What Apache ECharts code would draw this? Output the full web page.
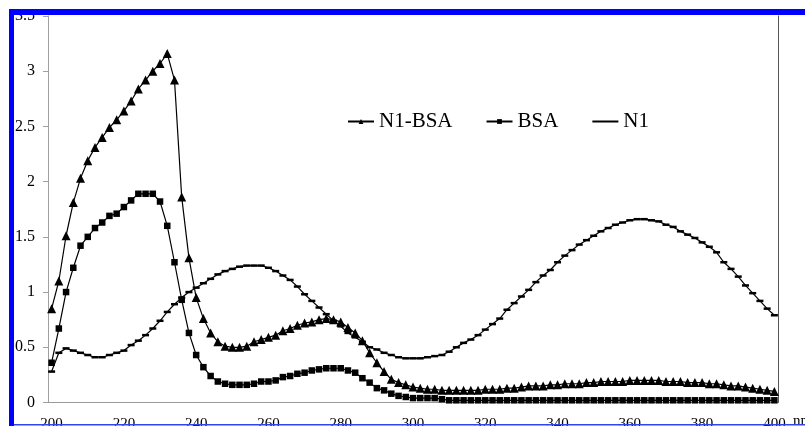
<!DOCTYPE html>
<html>
<head>
<meta charset="utf-8">
<script src="https://cdn.jsdelivr.net/npm/echarts@6/dist/echarts.min.js"></script>
<style>
html,body{margin:0;padding:0;background:#fff;}
#c{width:805px;height:426px;}
</style>
</head>
<body>
<div id="c"></div>
<script>
// wavelength categories 200..400 nm, step 2
var categories = [];
for (var w = 200; w <= 400; w += 2) categories.push(String(w));

var yTicks = [0, 0.5, 1, 1.5, 2, 2.5, 3, 3.5];

var n1bsa = [
  0.85, 1.10, 1.51, 1.81, 2.03, 2.19, 2.31, 2.40, 2.49, 2.56,
  2.64, 2.73, 2.84, 2.92, 3.00, 3.07, 3.16, 2.92, 1.86, 1.31,
  0.95, 0.76, 0.63, 0.55, 0.51, 0.50, 0.50, 0.51, 0.55, 0.57,
  0.59, 0.61, 0.65, 0.67, 0.70, 0.72, 0.73, 0.75, 0.76, 0.75,
  0.73, 0.68, 0.63, 0.56, 0.45, 0.36, 0.28, 0.21, 0.18, 0.16,
  0.14, 0.13, 0.12, 0.12, 0.11, 0.11, 0.11, 0.11, 0.11, 0.11,
  0.12, 0.12, 0.12, 0.13, 0.13, 0.14, 0.15, 0.15, 0.15, 0.16,
  0.16, 0.17, 0.17, 0.17, 0.18, 0.18, 0.19, 0.19, 0.19, 0.19,
  0.20, 0.20, 0.20, 0.20, 0.20, 0.19, 0.19, 0.19, 0.18, 0.18,
  0.18, 0.17, 0.17, 0.16, 0.15, 0.15, 0.14, 0.13, 0.12, 0.11,
  0.10
];

var bsa = [
  0.36, 0.67, 1.00, 1.22, 1.42, 1.50, 1.58, 1.63, 1.69, 1.71,
  1.77, 1.83, 1.89, 1.89, 1.89, 1.82, 1.60, 1.27, 0.93, 0.63,
  0.43, 0.32, 0.24, 0.19, 0.17, 0.16, 0.16, 0.16, 0.17, 0.19,
  0.19, 0.20, 0.23, 0.24, 0.26, 0.27, 0.29, 0.30, 0.31, 0.31,
  0.31, 0.29, 0.27, 0.22, 0.18, 0.13, 0.11, 0.08, 0.06, 0.05,
  0.04, 0.04, 0.04, 0.04, 0.03, 0.02, 0.02, 0.02, 0.02, 0.02,
  0.02, 0.02, 0.02, 0.02, 0.02, 0.02, 0.02, 0.02, 0.02, 0.02,
  0.02, 0.02, 0.02, 0.02, 0.02, 0.02, 0.02, 0.02, 0.02, 0.02,
  0.02, 0.02, 0.02, 0.02, 0.02, 0.02, 0.02, 0.02, 0.02, 0.02,
  0.02, 0.02, 0.02, 0.02, 0.02, 0.02, 0.02, 0.02, 0.02, 0.02,
  0.02
];

var n1 = [
  0.28, 0.45, 0.49, 0.47, 0.45, 0.43, 0.41, 0.41, 0.43, 0.45,
  0.47, 0.52, 0.56, 0.61, 0.67, 0.74, 0.82, 0.89, 0.95, 1.00,
  1.04, 1.08, 1.12, 1.16, 1.19, 1.21, 1.23, 1.24, 1.24, 1.24,
  1.22, 1.19, 1.15, 1.11, 1.05, 0.98, 0.92, 0.86, 0.80, 0.74,
  0.69, 0.63, 0.59, 0.55, 0.50, 0.48, 0.45, 0.43, 0.41, 0.40,
  0.40, 0.40, 0.41, 0.42, 0.43, 0.46, 0.50, 0.54, 0.57, 0.61,
  0.66, 0.71, 0.76, 0.84, 0.90, 0.96, 1.02, 1.09, 1.15, 1.20,
  1.27, 1.33, 1.38, 1.43, 1.47, 1.51, 1.55, 1.58, 1.61, 1.63,
  1.65, 1.66, 1.66, 1.65, 1.64, 1.61, 1.59, 1.55, 1.52, 1.49,
  1.45, 1.41, 1.36, 1.27, 1.21, 1.14, 1.06, 0.99, 0.92, 0.85,
  0.79
];

var chart = echarts.init(document.getElementById('c'), null, {renderer: 'canvas'});

var lineStyle = {color: '#000', width: 1.2};
var option = {
  animation: false,
  backgroundColor: '#fff',
  grid: {left: 48, right: 27, top: 16, bottom: 23.5, containLabel: false, outerBoundsMode: 'none'},
  legend: {
    left: 347, top: 111, padding: 0,
    itemWidth: 26, itemHeight: 6, itemGap: 33,
    textStyle: {fontFamily: 'Liberation Serif', fontSize: 21, color: '#000'},
    data: ['N1-BSA', 'BSA', {name: 'N1', itemStyle: {opacity: 0}}]
  },
  xAxis: [{
    type: 'category',
    data: categories,
    boundaryGap: true,
    axisLine: {show: false},
    axisTick: {show: false},
    splitLine: {show: false},
    axisLabel: {interval: 9, margin: 14, fontFamily: 'Liberation Serif', fontSize: 15, color: '#000'}
  }, {
    type: 'category',
    data: categories,
    position: 'top',
    boundaryGap: true,
    axisLine: {show: true, lineStyle: {color: '#9a9a9a', width: 1}},
    axisTick: {show: false},
    axisLabel: {show: false},
    splitLine: {show: false}
  }],
  yAxis: [{
    type: 'value',
    min: 0, max: 3.5, interval: 0.5,
    axisLine: {show: true, lineStyle: {color: '#a0a0a0', width: 1}},
    axisTick: {show: true, inside: false, length: 5, lineStyle: {color: '#a0a0a0'}},
    splitLine: {show: false},
    axisLabel: {
      margin: 13, fontFamily: 'Liberation Serif', fontSize: 16, color: '#000',
      formatter: function (v) { return yTicks.indexOf(v) >= 0 ? String(v) : ''; }
    }
  }, {
    type: 'value',
    position: 'right',
    min: 0, max: 3.5, interval: 0.5,
    axisLine: {show: true, lineStyle: {color: '#555', width: 1}},
    axisTick: {show: false},
    axisLabel: {show: false},
    splitLine: {show: false}
  }],
  series: [{
    name: 'N1-BSA', type: 'line', data: n1bsa,
    symbol: 'triangle', symbolSize: 9, showAllSymbol: true,
    lineStyle: lineStyle, itemStyle: {color: '#000'}
  }, {
    name: 'BSA', type: 'line', data: bsa,
    symbol: 'rect', symbolSize: 6.5, showAllSymbol: true,
    lineStyle: lineStyle, itemStyle: {color: '#000'}
  }, {
    name: 'N1', type: 'line', data: n1,
    symbol: 'rect', symbolSize: [7, 2.5], showAllSymbol: true,
    lineStyle: lineStyle, itemStyle: {color: '#000'}
  }],
  graphic: [
    {type: 'text', left: 793, top: 414, z: 50, style: {text: 'nm', font: '15px "Liberation Serif"', fill: '#000'}},
    {type: 'rect', shape: {x: 9, y: 9, width: 796, height: 6}, style: {fill: '#0000ff'}, z: 100},
    {type: 'rect', shape: {x: 9, y: 9, width: 5, height: 417}, style: {fill: '#0000ff'}, z: 100},
    {type: 'rect', shape: {x: 14, y: 424, width: 791, height: 1.5}, style: {fill: '#3344ee'}, z: 100}
  ]
};
chart.setOption(option);
</script>
</body>
</html>
